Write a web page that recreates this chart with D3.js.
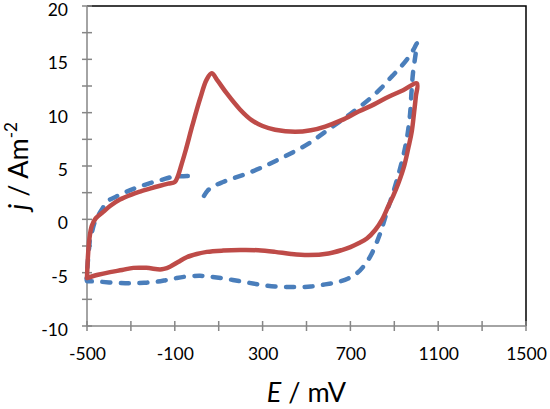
<!DOCTYPE html>
<html>
<head>
<meta charset="utf-8">
<script src="https://cdn.jsdelivr.net/npm/d3@7"></script>
<style>
  html, body { margin: 0; padding: 0; background: #fff; }
  svg { display: block; }
  text { font-family: Lato, "Open Sans", sans-serif; fill: #000; }
</style>
</head>
<body>
<svg id="chart" width="550" height="409"></svg>
<script>
// ---- data (E in mV, j in A m^-2) ----
const redE = [-500,-496,-489,-478,-460,-426,-395,-350,-300,-258,-210,-167,-130,-100,-85,-70,-50,-20,15,45,68,95,137,197,250,300,357,448,520,585,660,737,810,874,940,1003,
  998,990,980,965,945,919,895,874,845,813,775,737,700,661,600,509,430,357,280,197,120,46,0,-46,-85,-122,-150,-167,-230,-289,-340,-395,-450,-500];
const redJ = [-5.5,-3.6,-1.8,-0.6,0.1,0.7,1.25,1.85,2.3,2.6,2.9,3.15,3.35,3.5,4.1,5.1,6.5,8.8,11.3,13.1,13.7,13.0,11.8,10.3,9.3,8.75,8.4,8.2,8.35,8.7,9.3,10.1,10.8,11.5,12.1,12.75,
  11.5,10.0,8.3,6.8,5.0,3.4,2.2,1.3,0.0,-1.0,-1.8,-2.25,-2.6,-2.88,-3.2,-3.35,-3.25,-3.05,-2.9,-2.88,-2.93,-3.05,-3.25,-3.55,-4.0,-4.44,-4.65,-4.7,-4.55,-4.55,-4.75,-4.95,-5.2,-5.5];

const blueE = [33,50,76,120,167,230,289,357,430,509,585,661,720,782,840,889,930,965,990,1003,
  995,985,978,972,962,950,932,912,893,874,856,836,815,790,760,730,690,638,585,520,448,357,280,197,110,50,15,-40,-91,-140,-182,-240,-304,-370,-441,-494,-500,
  -497,-490,-486,-479,-464,-448,-430,-410,-370,-319,-270,-213,-160,-107,-60,-15,-8];
const blueJ = [2.2,2.7,3.1,3.5,3.85,4.3,4.8,5.45,6.2,7.1,8.2,9.3,10.2,11.2,12.3,13.4,14.3,15.2,16.0,16.5,
  15.2,13.7,11.8,9.9,8.2,6.8,5.2,3.7,2.4,1.2,0.0,-1.3,-2.4,-3.5,-4.4,-5.05,-5.55,-5.9,-6.1,-6.3,-6.35,-6.3,-6.1,-5.8,-5.5,-5.35,-5.3,-5.35,-5.5,-5.7,-5.85,-5.95,-6.0,-5.95,-5.85,-5.8,-5.8,
  -4.2,-2.6,-1.8,-1.3,-0.2,0.4,1.0,1.65,2.1,2.6,3.0,3.4,3.7,4.0,4.05,4.06,4.05];

const xMajor = [-500,-100,300,700,1100,1500];
const xMinor = [-300,100,500,900,1300];
const yMajor = [-10,-5,0,5,10,15,20];
const yMinor = [-7.5,-2.5,2.5,7.5,12.5,17.5];

// ---- layout ----
const svg = d3.select("#chart");
const L = 87, R = 526, T = 6, B = 326;
const x = d3.scaleLinear().domain([-500,1500]).range([L,R]);
const y = d3.scaleLinear().domain([-10,20]).range([B,T]);
const fmt = d => String(d);

// plot border (top & right black)
svg.append("path")
  .attr("d", `M${L},${T}H${R}V${B}`)
  .attr("fill","none").attr("stroke","#000").attr("stroke-width",1.5);

const axisColor = "#868686";

// x axis
const gx = svg.append("g").attr("transform",`translate(0,${B})`);
gx.append("line").attr("x1",L).attr("x2",R).attr("stroke",axisColor).attr("stroke-width",1.5);
gx.append("g").call(d3.axisBottom(x).tickValues(xMajor).tickFormat(fmt).tickSize(0).tickPadding(0))
  .call(g => { g.select(".domain").remove();
    g.selectAll(".tick text").attr("y",34).attr("dy",null).style("font-size","17.5px").style("font-family","Lato, 'Open Sans', sans-serif").attr("fill","#000"); });
gx.append("g").selectAll("line").data(xMajor.concat(xMinor)).join("line")
  .attr("x1",d=>x(d)).attr("x2",d=>x(d)).attr("y1",-5).attr("y2",5)
  .attr("stroke",axisColor).attr("stroke-width",1.5);

// y axis
const gy = svg.append("g").attr("transform",`translate(${L},0)`);
gy.append("line").attr("y1",T).attr("y2",B).attr("stroke",axisColor).attr("stroke-width",1.5);
gy.append("g").call(d3.axisLeft(y).tickValues(yMajor).tickFormat(fmt).tickSize(0).tickPadding(19))
  .call(g => { g.select(".domain").remove();
    g.selectAll(".tick text").attr("dy","0.68em").attr("y",-2.5).style("font-size","17.5px").style("font-family","Lato, 'Open Sans', sans-serif").attr("fill","#000"); });
gy.append("g").selectAll("line").data(yMajor.concat(yMinor)).join("line")
  .attr("y1",d=>y(d)).attr("y2",d=>y(d)).attr("x1",-5).attr("x2",5)
  .attr("stroke",axisColor).attr("stroke-width",1.5);

// curves
const line = d3.line().x(d=>x(d[0])).y(d=>y(d[1])).curve(d3.curveCatmullRom.alpha(0.5));
const blueData = blueE.map((e,i)=>[e,blueJ[i]]);
const redData = redE.map((e,i)=>[e,redJ[i]]);

svg.append("path").attr("d", line(blueData))
  .attr("fill","none").attr("stroke","#4A7EBB").attr("stroke-width",4.5)
  .attr("stroke-dasharray","8,10.5").attr("stroke-linecap","round").attr("stroke-linejoin","round");
svg.append("path").attr("d", line(redData))
  .attr("fill","none").attr("stroke","#BE4B48").attr("stroke-width",4.5)
  .attr("stroke-linejoin","round").attr("stroke-linecap","round");

// axis titles
const xt = svg.append("text").attr("x",(L+R)/2).attr("y",402).attr("text-anchor","middle")
  .style("font-size","27px");
xt.append("tspan").attr("font-style","italic").text("E");
xt.append("tspan").text(" / mV");

const yt = svg.append("text").attr("transform",`translate(28,${(T+B)/2}) rotate(-90)`)
  .attr("text-anchor","middle").style("font-size","27px");
yt.append("tspan").attr("font-style","italic").text("j");
yt.append("tspan").text(" / Am");
yt.append("tspan").attr("dy",-11).style("font-size","17px").text("-2");
</script>
</body>
</html>
